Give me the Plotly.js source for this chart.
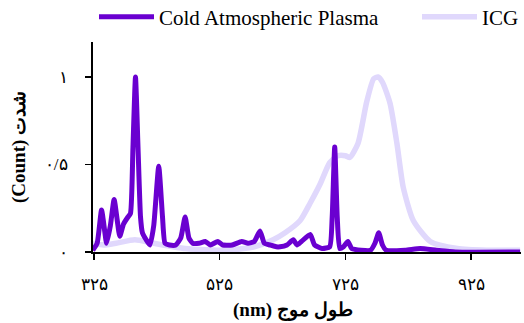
<!DOCTYPE html>
<html>
<head>
<meta charset="utf-8">
<script src="https://cdn.plot.ly/plotly-3.0.1.min.js"></script>
<style>html,body{margin:0;padding:0;background:#fff}#chart{width:524px;height:323px}</style>
</head>
<body>
<div id="chart"></div>
<script>
const plasmaX = [323,330,337,342,345,351,357,362,366,372,379,383,387,391,395,399,402,408,414,420,428,434,438,445,455,463,470,476,482,492,502,510,522,530,545,560,570,580,589,596,605,615,621,632,642,648,655,669,676,688,700,704,708,712,716,722,729,735,750,765,772,778,784,790,820,844,870,900,1003];
const plasmaY = [0.01,0.05,0.24,0.12,0.05,0.15,0.30,0.18,0.09,0.16,0.20,0.22,0.6,1.0,0.6,0.2,0.11,0.07,0.04,0.15,0.49,0.2,0.05,0.04,0.04,0.08,0.20,0.08,0.05,0.05,0.06,0.04,0.06,0.04,0.04,0.06,0.05,0.06,0.12,0.05,0.04,0.03,0.03,0.04,0.07,0.04,0.06,0.10,0.04,0.02,0.03,0.2,0.6,0.2,0.02,0.03,0.06,0.02,0.01,0.01,0.05,0.11,0.04,0.01,0.01,0.02,0.01,0.0,0.0];
const icgX = [323,340,360,390,420,470,538,580,610,629,653,669,685,700,713,725,732,745,759,770,777,784,796,807,817,833,860,903,950,1003];
const icgY = [0.05,0.04,0.05,0.07,0.05,0.02,0.01,0.03,0.07,0.11,0.18,0.28,0.39,0.51,0.55,0.55,0.54,0.62,0.86,0.99,1.0,0.97,0.85,0.62,0.37,0.18,0.06,0.02,0.01,0.01];
const seriesNames = ['Cold Atmospheric Plasma','ICG'];
const xTickVals = [325,525,725,925];
const xTickText = ['۳۲۵','۵۲۵','۷۲۵','۹۲۵'];
const yTickVals = [0,0.5,1];
const yTickText = ['۰','۰/۵','۱'];
const xTitle = '(nm) طول موج';
const yTitle = '(Count) شدت';

const serif = "Liberation Serif";
const legendBase = {orientation: 'h', yref: 'container', xref: 'container', y: 1 - 17/323, yanchor: 'middle',
  font: {family: serif, size: 21, color: '#000'}, itemwidth: 55, bgcolor: 'rgba(0,0,0,0)', borderwidth: 0};
const data = [
  {x: icgX, y: icgY, name: seriesNames[1], type: 'scatter', mode: 'lines', legend: 'legend2',
   line: {color: '#e0d8fc', width: 5.5, shape: 'spline', smoothing: 0.6}},
  {x: plasmaX, y: plasmaY, name: seriesNames[0], type: 'scatter', mode: 'lines', legend: 'legend',
   line: {color: '#6a00d0', width: 5, shape: 'spline', smoothing: 0.5}}
];
const layout = {
  width: 524, height: 323,
  margin: {l: 93, r: 3, t: 42, b: 71, autoexpand: false},
  paper_bgcolor: '#fff', plot_bgcolor: '#fff',
  showlegend: true,
  legend: Object.assign({}, legendBase, {x: 94/524, xanchor: 'left'}),
  legend2: Object.assign({}, legendBase, {x: 1, xanchor: 'right'}),
  xaxis: {range: [323.4, 1004.4], tickvals: xTickVals, ticktext: xTickText, ticks: 'outside', ticklen: 6, tickwidth: 1.5, tickcolor: '#000',
    showline: true, linecolor: '#000', linewidth: 2, showgrid: false, zeroline: false, ticklabelstandoff: 10,
    tickfont: {family: serif, size: 17, color: '#000'}},
  yaxis: {range: [0, 1.2], tickvals: yTickVals, ticktext: yTickText, ticks: 'outside', ticklen: 6, tickwidth: 1.5, tickcolor: '#000',
    showline: true, linecolor: '#000', linewidth: 2, showgrid: false, zeroline: false, ticklabelstandoff: 14,
    tickfont: {family: serif, size: 17, color: '#000'},
    title: {text: '<b>' + yTitle + '</b>', font: {family: serif, size: 19, color: '#000'}, standoff: 14}},
  annotations: [{text: '<b>' + xTitle + '</b>', xref: 'paper', yref: 'paper', x: (293 - 93) / 428, y: -(310 - 252) / 210,
    xanchor: 'center', yanchor: 'middle', showarrow: false, font: {family: serif, size: 19, color: '#000'}}]
};
Plotly.newPlot('chart', data, layout, {displayModeBar: false, staticPlot: true});
</script>
</body>
</html>
